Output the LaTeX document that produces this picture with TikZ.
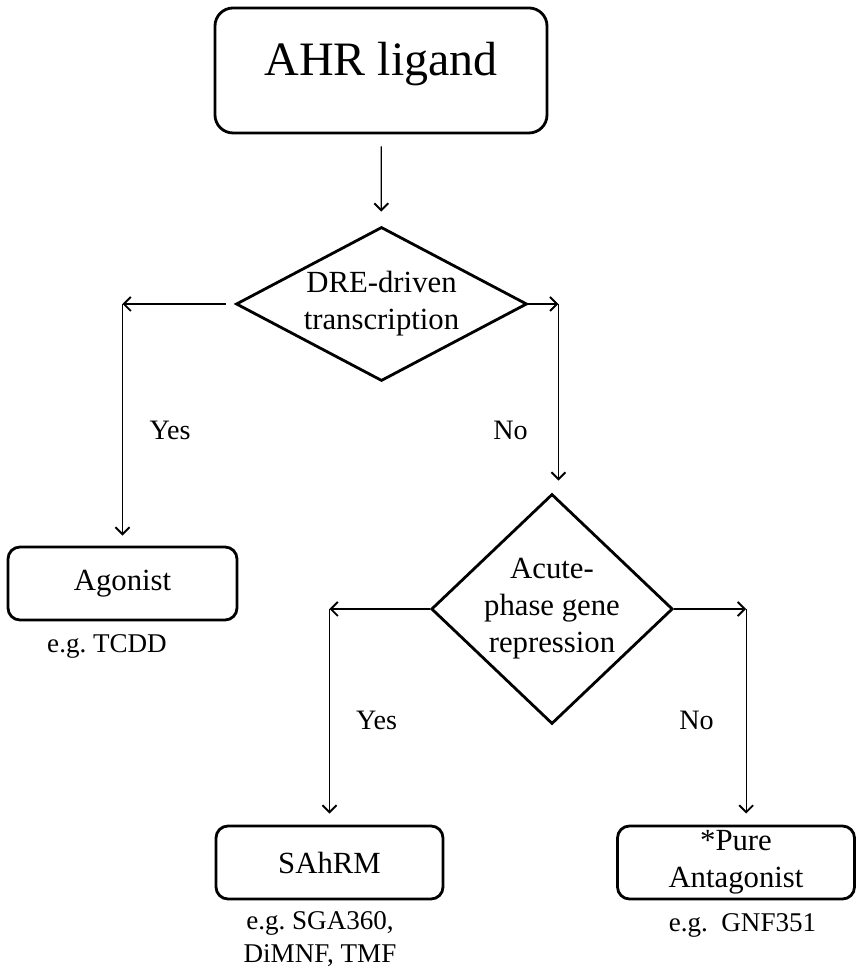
\documentclass[tikz,border=0pt]{standalone}
\usepackage{fontspec}
\setmainfont{Liberation Serif}
\usetikzlibrary{shapes.geometric,arrows.meta,positioning,calc}

\begin{document}
\begin{tikzpicture}[
    box/.style={draw, line width=1.6pt, rounded corners=0.24cm, align=center, inner sep=0pt, font=\fontsize{17.5}{21}\selectfont},
    decision/.style={draw, diamond, line width=1.6pt, align=center, inner sep=0pt, font=\fontsize{17.5}{21}\selectfont},
    example/.style={align=center, font=\fontsize{15.4}{18.8}\selectfont},
    answer/.style={font=\fontsize{16}{19}\selectfont},
    link/.style={line width=0.7pt, -{Straight Barb[length=4pt,width=8pt,line width=1.1pt]}}
]
\useasboundingbox (0,0) rectangle (17.14,19.38);

% Ligand box (text sits in the upper part)
\node[box, rounded corners=0.36cm, minimum width=6.64cm, minimum height=2.5cm, text depth=0.48cm, font=\fontsize{27.3}{32}\selectfont] (ahr) at (7.62,17.97) {AHR ligand};

% Decisions
\node[decision, minimum width=5.82cm, minimum height=3.08cm, shape aspect=1.89] (dre) at (7.63,13.3) {DRE-driven\\transcription};
\node[decision, minimum width=4.76cm, minimum height=4.52cm, shape aspect=1.05] (acute) at (11.04,7.20) {Acute-\\phase gene\\repression};

% Outcome boxes
\node[box, minimum width=4.58cm, minimum height=1.46cm] (agonist) at (2.45,7.71) {Agonist};
\node[box, minimum width=4.54cm, minimum height=1.46cm] (sahrm) at (6.59,2.13) {SAhRM};
\node[box, minimum width=4.74cm, minimum height=1.46cm] (pure) at (14.72,2.13) {*Pure\\Antagonist};

% Examples under the boxes
\node[example] (extcdd) at (2.14,6.46) {e.g.\ TCDD};
\node[example] (exsga) at (6.4,0.6) {e.g.\ SGA360,\\DiMNF, TMF};
\node[example] (exgnf) at (14.85,0.88) {e.g.\ \ GNF351};

% Corners of the branches
\coordinate (dreleft) at (agonist.north |- dre.west);
\coordinate (dreright) at ($(dre.east)+(0.6,0)$);
\coordinate (acuteleft) at (sahrm.north |- acute.west);
\coordinate (acuteright) at ($(acute.east)+(1.44,0)$);

% Connectors
\draw[link, shorten <=0.24cm, shorten >=0.28cm] (ahr) -- (dre);
\draw[link, shorten <=0.18cm] (dre.west) -- (dreleft);
\draw[link, shorten >=0.2cm] (dreleft) -- (agonist.north);
\draw[link] (dre.east) -- (dreright);
\draw[link, shorten >=0.24cm] (dreright) -- (dreright |- acute.north);
\draw[link] (acute.west) -- (acuteleft);
\draw[link, shorten >=0.22cm] (acuteleft) -- (sahrm.north);
\draw[link] (acute.east) -- (acuteright);
\draw[link, shorten >=0.22cm] (acuteright) -- (acuteright |- pure.north);

% Branch labels
\node[answer] (yesdre) at (3.40,10.78) {Yes};
\node[answer] (nodre) at (10.21,10.78) {No};
\node[answer] (yesacute) at (7.53,4.98) {Yes};
\node[answer] (noacute) at (13.93,4.98) {No};

\end{tikzpicture}
\end{document}
